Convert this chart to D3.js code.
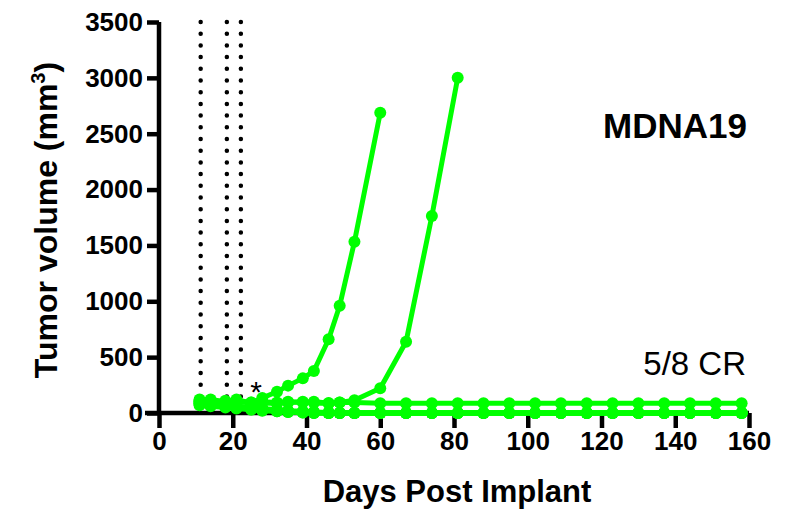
<!DOCTYPE html>
<html>
<head>
<meta charset="utf-8">
<script src="https://cdn.jsdelivr.net/npm/d3@7"></script>
<style>
  html, body { margin: 0; padding: 0; background: #fff; }
  svg { display: block; font-family: "Liberation Sans", Arial, sans-serif; }
</style>
</head>
<body>
<svg id="chart" width="797" height="512"></svg>
<script>
// ---- data ----
const days = [11,14,18,21,25,28,32,35,39,42,46,49,53,60,67,74,81,88,95,102,109,116,123,130,137,144,151,158];
const mouse1 = [100,115,95,120,90,134,190,245,310,376,660,960,1533,2688];
const mouse2 = [85,95,110,100,95,90,85,95,100,90,85,95,115,221,638,1763,3000];
const mouse3 = [110,120,100,105,95,100,95,100,95,100,90,95,95,88,88,88,88,88,88,88,88,88,88,88,88,88,88,88];
const mouse4 = [120,100,80,60,50,40,30,20,15,10,5,0,0,0,0,0,0,0,0,0,0,0,0,0,0,0,0,0];
const mouse5 = [90,80,70,50,40,30,20,15,10,5,0,0,0,0,0,0,0,0,0,0,0,0,0,0,0,0,0,0];
const mouse6 = [70,60,50,40,30,20,15,10,5,0,0,0,0,0,0,0,0,0,0,0,0,0,0,0,0,0,0,0];
const mouse7 = [100,90,75,60,45,35,25,15,10,5,0,0,0,0,0,0,0,0,0,0,0,0,0,0,0,0,0,0];
const mouse8 = [80,70,60,45,35,25,15,10,5,0,0,0,0,0,0,0,0,0,0,0,0,0,0,0,0,0,0,0];
const allMice = [mouse4, mouse5, mouse6, mouse7, mouse8, mouse3, mouse2, mouse1];
const doseDays = [11.3, 18.4, 22.2];
const xTicks = [0,20,40,60,80,100,120,140,160];
const yTicks = [0,500,1000,1500,2000,2500,3000,3500];

// ---- layout ----
const svg = d3.select("#chart");
const x = d3.scaleLinear().domain([0,160]).range([159,749]);
const y = d3.scaleLinear().domain([0,3500]).range([413,22]);
const green = "#00ff00";

// dose lines (dotted)
svg.append("g").selectAll("line").data(doseDays).join("line")
  .attr("x1", d => x(d)).attr("x2", d => x(d))
  .attr("y1", y(3500)).attr("y2", y(0))
  .attr("stroke", "#000").attr("stroke-width", 4.5)
  .attr("stroke-linecap", "round").attr("stroke-dasharray", "0,11.7");

// axes
const fmt = d3.format("d");
const xAxis = svg.append("g").attr("transform", `translate(0,${y(0)})`)
  .call(d3.axisBottom(x).tickValues(xTicks).tickFormat(fmt).tickSize(15).tickPadding(4).tickSizeOuter(0));
const yAxis = svg.append("g").attr("transform", `translate(${x(0)},0)`)
  .call(d3.axisLeft(y).tickValues(yTicks).tickFormat(fmt).tickSize(12).tickPadding(4).tickSizeOuter(0));
[xAxis, yAxis].forEach(g => {
  g.select(".domain").attr("stroke", "#000").attr("stroke-width", 4.5);
  g.selectAll(".tick line").attr("stroke", "#000").attr("stroke-width", 4.5);
  g.selectAll(".tick text").attr("fill", "#000").attr("font-size", 26).attr("font-weight", "bold")
    .attr("font-family", "'Liberation Sans', Arial, sans-serif");
});
xAxis.select(".domain").attr("d", `M${x(0)-14},0H${x(160)}`);
yAxis.select(".domain").attr("d", `M0,${y(0)+2}V${y(3500)}`);

// series
const line = d3.line().x((d,i) => x(days[i])).y(d => y(d));
const gS = svg.append("g");
allMice.forEach(vals => {
  gS.append("path").datum(vals).attr("d", line)
    .attr("fill", "none").attr("stroke", green).attr("stroke-width", 5)
    .attr("stroke-linejoin", "round");
  gS.append("g").selectAll("circle").data(vals).join("circle")
    .attr("cx", (d,i) => x(days[i])).attr("cy", d => y(d)).attr("r", 6)
    .attr("fill", green);
});

// annotations
svg.append("text").attr("x", 256).attr("y", 402).attr("text-anchor", "middle")
  .attr("font-size", 30).text("*");
svg.append("text").attr("x", 747).attr("y", 138).attr("text-anchor", "end")
  .attr("font-size", 35).attr("font-weight", "bold").text("MDNA19");
svg.append("text").attr("x", 746).attr("y", 375).attr("text-anchor", "end")
  .attr("font-size", 33).text("5/8 CR");

// axis titles
svg.append("text").attr("x", 457).attr("y", 502).attr("text-anchor", "middle")
  .attr("font-size", 31).attr("font-weight", "bold").text("Days Post Implant");
const yt = svg.append("text").attr("transform", "translate(57,220) rotate(-90)")
  .attr("text-anchor", "middle").attr("font-size", 32).attr("font-weight", "bold");
yt.append("tspan").text("Tumor volume (mm");
yt.append("tspan").attr("font-size", 20).attr("dy", -12).text("3");
yt.append("tspan").attr("dy", 12).text(")");
</script>
</body>
</html>
